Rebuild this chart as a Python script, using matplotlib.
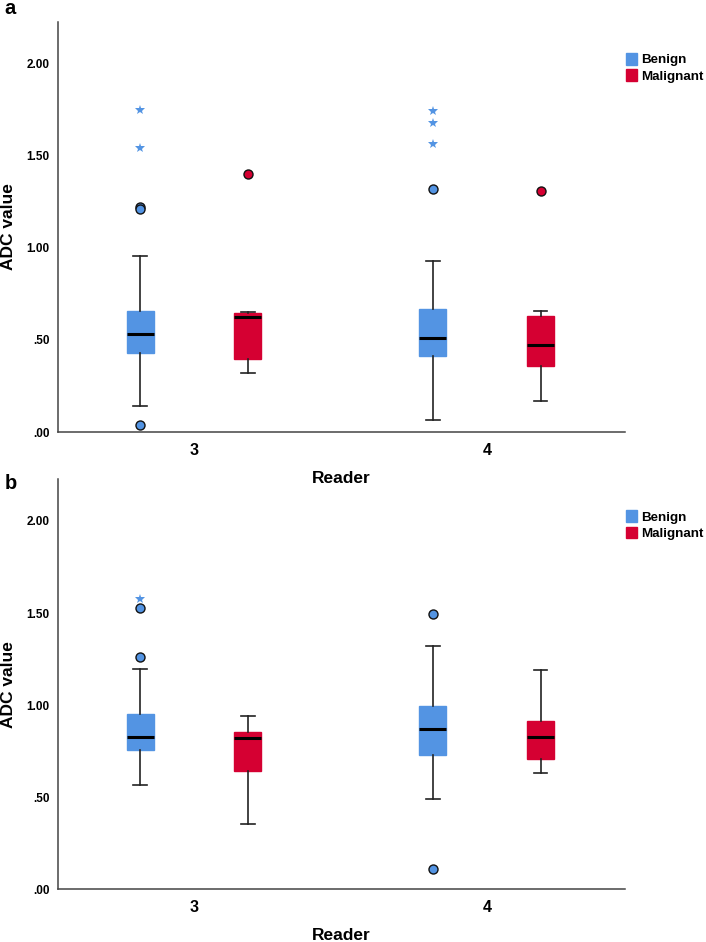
import matplotlib
matplotlib.use("Agg")
import matplotlib.pyplot as plt
from matplotlib.patches import Patch

plt.rcParams['font.family'] = ['Liberation Sans', 'DejaVu Sans']

readers = ['3', '4']
groups = ['Benign', 'Malignant']
group_colors = ['#5394E3', '#D50032']
yticks = [0.0, 0.5, 1.0, 1.5, 2.0]
ytick_labels = ['.00', '.50', '1.00', '1.50', '2.00']

# order in each list: reader3-benign, reader3-malignant, reader4-benign, reader4-malignant
# Panel a
a_whislo = [0.143, 0.323, 0.067, 0.170]
a_q1 = [0.430, 0.394, 0.412, 0.359]
a_med = [0.532, 0.627, 0.511, 0.471]
a_q3 = [0.659, 0.646, 0.670, 0.632]
a_whishi = [0.953, 0.652, 0.926, 0.655]
a_circles = [[1.223, 1.213, 0.038], [1.399], [1.318], [1.306]]
a_stars = [[1.751, 1.544], [], [1.741, 1.678, 1.564], []]

# Panel b
b_whislo = [0.567, 0.356, 0.493, 0.629]
b_q1 = [0.759, 0.645, 0.730, 0.710]
b_med = [0.826, 0.820, 0.873, 0.829]
b_q3 = [0.950, 0.855, 0.996, 0.912]
b_whishi = [1.198, 0.943, 1.319, 1.191]
b_circles = [[1.530, 1.259], [], [1.494, 0.108], []]
b_stars = [[1.577], [], [], []]

panels = [
    ('a', a_whislo, a_q1, a_med, a_q3, a_whishi, a_circles, a_stars, 0.5414, 0.9766, 0.9915),
    ('b', b_whislo, b_q1, b_med, b_q3, b_whishi, b_circles, b_stars, 0.0559, 0.4912, 0.4870),
]

fig = plt.figure(figsize=(7.06, 9.42), dpi=100)
offset = 0.184
bw = 0.092

for (lab, wlo, q1, med, q3, whi, circ, stars, bot, top, laby) in panels:
    ax = fig.add_axes([0.0822, bot, 0.885 - 0.0822, top - bot])
    ax.patch.set_alpha(0)
    for i in range(4):
        r = i // 2
        g = i % 2
        pos = r + (-offset if g == 0 else offset)
        col = group_colors[g]
        st = [dict(whislo=wlo[i], q1=q1[i], med=med[i], q3=q3[i], whishi=whi[i],
                   fliers=circ[i])]
        ax.bxp(st, positions=[pos], widths=bw, capwidths=bw * 0.5,
               patch_artist=True, showfliers=True,
               boxprops=dict(facecolor=col, edgecolor=col, linewidth=1),
               medianprops=dict(color='black', linewidth=2.2),
               whiskerprops=dict(color='#222222', linewidth=1.2),
               capprops=dict(color='#222222', linewidth=1.2),
               flierprops=dict(marker='o', markerfacecolor=col, markeredgecolor='#111111',
                               markersize=6.5, markeredgewidth=1.0, linestyle='none'))
        if stars[i]:
            ax.plot([pos] * len(stars[i]), stars[i], linestyle='none', marker='*',
                    color=col, markersize=7, markeredgewidth=0)
    ax.set_xlim(-0.464, 0.471 + 1)
    ax.set_ylim(0, 2.226)
    ax.set_xticks([0, 1])
    ax.set_xticklabels(readers, fontsize=11.5, fontweight='bold')
    ax.set_yticks(yticks)
    ax.set_yticklabels(ytick_labels, fontsize=8.5, fontweight='bold')
    ax.tick_params(axis='both', length=0)
    ax.tick_params(axis='y', pad=6)
    ax.tick_params(axis='x', pad=8)
    for s in ['top', 'right']:
        ax.spines[s].set_visible(False)
    for s in ['left', 'bottom']:
        ax.spines[s].set_color('#444444')
        ax.spines[s].set_linewidth(1.1)
    ax.set_xlabel('Reader', fontsize=12.5, fontweight='bold', labelpad=9)
    ax.set_ylabel('ADC value', fontsize=12.5, fontweight='bold')
    ax.yaxis.set_label_coords(-0.074, 0.5)
    handles = [Patch(facecolor=group_colors[k], edgecolor=group_colors[k], label=groups[k])
               for k in range(2)]
    ax.legend(handles=handles, loc='upper left', bbox_to_anchor=(1.002, 0.925),
              frameon=False, prop=dict(size=9.6, weight='bold'),
              handlelength=0.85, handleheight=1.0, handletextpad=0.3,
              labelspacing=0.22, borderaxespad=0, borderpad=0)
    fig.text(0.006, laby, lab, fontsize=14.5, fontweight='bold', va='center', ha='left')

fig.savefig('out.png', dpi=100)
